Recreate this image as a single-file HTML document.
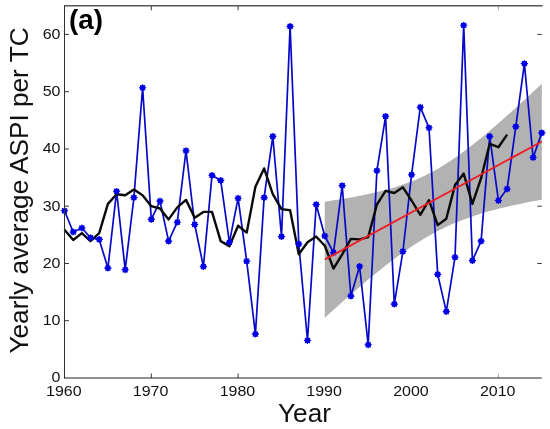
<!DOCTYPE html>
<html><head><meta charset="utf-8"><style>
html,body{margin:0;padding:0;background:#fff;}
svg{display:block;will-change:transform;font-family:"Liberation Sans",sans-serif;}
.tl{font-size:14.8px;fill:#111;}
.tk{stroke:#222;stroke-width:0.9;}
</style></head><body>
<svg width="550" height="429" viewBox="0 0 550 429">
<defs><g id="m"><circle r="2.8" fill="#0000e6"/><path d="M-3.6,0H3.6M0,-3.4V3.4M-2.5,-2.5L2.5,2.5M-2.5,2.5L2.5,-2.5" stroke="#0000e6" stroke-width="1.1"/></g></defs>
<rect width="550" height="429" fill="#fff"/>
<line x1="151.3" y1="378.0" x2="151.3" y2="373.5" class="tk"/><line x1="151.3" y1="5.8" x2="151.3" y2="10.3" class="tk"/><line x1="238.1" y1="378.0" x2="238.1" y2="373.5" class="tk"/><line x1="238.1" y1="5.8" x2="238.1" y2="10.3" class="tk"/><line x1="498.4" y1="378.0" x2="498.4" y2="373.5" class="tk" opacity="0.45"/><line x1="498.4" y1="5.8" x2="498.4" y2="10.3" class="tk" opacity="0.45"/><line x1="64.5" y1="320.7" x2="69.0" y2="320.7" class="tk"/><line x1="64.5" y1="263.5" x2="69.0" y2="263.5" class="tk"/><line x1="541.8" y1="263.5" x2="537.3" y2="263.5" class="tk"/><line x1="64.5" y1="206.2" x2="69.0" y2="206.2" class="tk"/><line x1="541.8" y1="206.2" x2="537.3" y2="206.2" class="tk"/><line x1="64.5" y1="149.0" x2="69.0" y2="149.0" class="tk"/><line x1="541.8" y1="149.0" x2="537.3" y2="149.0" class="tk"/><line x1="64.5" y1="91.7" x2="69.0" y2="91.7" class="tk"/><line x1="541.8" y1="91.7" x2="537.3" y2="91.7" class="tk"/><line x1="64.5" y1="34.4" x2="69.0" y2="34.4" class="tk"/><line x1="541.8" y1="34.4" x2="537.3" y2="34.4" class="tk"/>
<polygon points="324.8,201.7 329.2,201.0 333.5,200.3 337.9,199.7 342.2,198.9 346.5,198.2 350.9,197.5 355.2,196.7 359.6,195.8 363.9,195.0 368.2,194.1 372.6,193.1 376.9,192.1 381.3,191.0 385.6,189.9 389.9,188.7 394.3,187.4 398.6,186.1 402.9,184.6 407.3,183.1 411.6,181.4 416.0,179.7 420.3,177.8 424.6,175.7 429.0,173.6 433.3,171.3 437.7,168.9 442.0,166.3 446.3,163.6 450.7,160.8 455.0,157.8 459.4,154.8 463.7,151.6 468.0,148.3 472.4,145.0 476.7,141.5 481.1,138.0 485.4,134.4 489.7,130.8 494.1,127.0 498.4,123.3 502.7,119.5 507.1,115.6 511.4,111.7 515.8,107.8 520.1,103.8 524.4,99.9 528.8,95.9 533.1,91.8 537.5,87.8 541.8,83.7 541.8,199.7 537.5,200.5 533.1,201.3 528.8,202.1 524.4,203.0 520.1,203.9 515.8,204.8 511.4,205.7 507.1,206.7 502.7,207.8 498.4,208.8 494.1,209.9 489.7,211.1 485.4,212.3 481.1,213.6 476.7,215.0 472.4,216.4 468.0,217.9 463.7,219.5 459.4,221.2 455.0,223.0 450.7,224.8 446.3,226.8 442.0,228.9 437.7,231.1 433.3,233.4 429.0,235.8 424.6,238.3 420.3,241.0 416.0,243.7 411.6,246.6 407.3,249.5 402.9,252.5 398.6,255.7 394.3,258.9 389.9,262.2 385.6,265.5 381.3,269.0 376.9,272.5 372.6,276.0 368.2,279.6 363.9,283.3 359.6,286.9 355.2,290.7 350.9,294.4 346.5,298.2 342.2,302.1 337.9,305.9 333.5,309.8 329.2,313.7 324.8,317.7" fill="#b2b2b2"/>
<polyline points="64.5,210.8 73.2,232.0 81.9,228.0 90.5,237.7 99.2,239.4 107.9,268.1 116.6,191.3 125.2,269.8 133.9,197.6 142.6,87.7 151.3,219.4 160.0,201.1 168.6,241.1 177.3,222.2 186.0,150.7 194.7,224.5 203.4,266.6 212.0,175.3 220.7,180.4 229.4,242.3 238.1,198.2 246.7,261.2 255.4,334.1 264.1,197.6 272.8,136.4 281.5,236.6 290.1,26.4 298.8,244.0 307.5,340.5 316.2,204.5 324.8,236.0 333.5,252.6 342.2,185.6 350.9,296.1 359.6,266.3 368.2,344.8 376.9,170.7 385.6,116.3 394.3,304.1 402.9,251.5 411.6,174.7 420.3,107.2 429.0,127.8 437.7,274.4 446.3,311.6 455.0,257.2 463.7,25.3 472.4,260.6 481.1,241.1 489.7,136.4 498.4,200.5 507.1,189.0 515.8,126.6 524.4,63.6 533.1,157.5 541.8,132.9" fill="none" stroke="#0808c8" stroke-width="1.7" stroke-linejoin="round"/>
<polyline points="64.5,229.7 73.2,240.0 81.9,233.1 90.5,241.1 99.2,233.1 107.9,203.9 116.6,194.2 125.2,195.3 133.9,189.6 142.6,195.3 151.3,206.2 160.0,208.5 168.6,219.4 177.3,207.4 186.0,199.9 194.7,217.7 203.4,211.9 212.0,211.9 220.7,241.1 229.4,246.3 238.1,225.7 246.7,232.6 255.4,186.7 264.1,168.4 272.8,194.2 281.5,209.1 290.1,210.2 298.8,254.3 307.5,242.3 316.2,236.6 324.8,245.7 333.5,268.6 342.2,254.3 350.9,238.9 359.6,239.4 368.2,237.1 376.9,204.5 385.6,190.8 394.3,193.0 402.9,187.3 411.6,200.5 420.3,214.8 429.0,200.2 437.7,225.1 446.3,218.8 455.0,185.0 463.7,173.6 472.4,203.9 481.1,178.2 489.7,143.8 498.4,147.2 507.1,134.6" fill="none" stroke="#0a0a0a" stroke-width="2.4" stroke-linejoin="round"/>
<use href="#m" x="64.5" y="210.8"/><use href="#m" x="73.2" y="232.0"/><use href="#m" x="81.9" y="228.0"/><use href="#m" x="90.5" y="237.7"/><use href="#m" x="99.2" y="239.4"/><use href="#m" x="107.9" y="268.1"/><use href="#m" x="116.6" y="191.3"/><use href="#m" x="125.2" y="269.8"/><use href="#m" x="133.9" y="197.6"/><use href="#m" x="142.6" y="87.7"/><use href="#m" x="151.3" y="219.4"/><use href="#m" x="160.0" y="201.1"/><use href="#m" x="168.6" y="241.1"/><use href="#m" x="177.3" y="222.2"/><use href="#m" x="186.0" y="150.7"/><use href="#m" x="194.7" y="224.5"/><use href="#m" x="203.4" y="266.6"/><use href="#m" x="212.0" y="175.3"/><use href="#m" x="220.7" y="180.4"/><use href="#m" x="229.4" y="242.3"/><use href="#m" x="238.1" y="198.2"/><use href="#m" x="246.7" y="261.2"/><use href="#m" x="255.4" y="334.1"/><use href="#m" x="264.1" y="197.6"/><use href="#m" x="272.8" y="136.4"/><use href="#m" x="281.5" y="236.6"/><use href="#m" x="290.1" y="26.4"/><use href="#m" x="298.8" y="244.0"/><use href="#m" x="307.5" y="340.5"/><use href="#m" x="316.2" y="204.5"/><use href="#m" x="324.8" y="236.0"/><use href="#m" x="333.5" y="252.6"/><use href="#m" x="342.2" y="185.6"/><use href="#m" x="350.9" y="296.1"/><use href="#m" x="359.6" y="266.3"/><use href="#m" x="368.2" y="344.8"/><use href="#m" x="376.9" y="170.7"/><use href="#m" x="385.6" y="116.3"/><use href="#m" x="394.3" y="304.1"/><use href="#m" x="402.9" y="251.5"/><use href="#m" x="411.6" y="174.7"/><use href="#m" x="420.3" y="107.2"/><use href="#m" x="429.0" y="127.8"/><use href="#m" x="437.7" y="274.4"/><use href="#m" x="446.3" y="311.6"/><use href="#m" x="455.0" y="257.2"/><use href="#m" x="463.7" y="25.3"/><use href="#m" x="472.4" y="260.6"/><use href="#m" x="481.1" y="241.1"/><use href="#m" x="489.7" y="136.4"/><use href="#m" x="498.4" y="200.5"/><use href="#m" x="507.1" y="189.0"/><use href="#m" x="515.8" y="126.6"/><use href="#m" x="524.4" y="63.6"/><use href="#m" x="533.1" y="157.5"/><use href="#m" x="541.8" y="132.9"/>
<line x1="324.8" y1="259.5" x2="541.8" y2="141.5" stroke="#ee1c24" stroke-width="1.9"/>
<line x1="64.5" y1="5.8" x2="542.5999999999999" y2="5.8" stroke="#555" stroke-width="1.6"/>
<line x1="64.5" y1="5.3" x2="64.5" y2="378.5" stroke="#303030" stroke-width="1"/>
<line x1="64.5" y1="378.0" x2="541.8" y2="378.0" stroke="#222" stroke-width="1.1"/>
<text transform="translate(63.8,396.2) scale(1.08,1)" text-anchor="middle" class="tl">1960</text><text transform="translate(150.6,396.2) scale(1.08,1)" text-anchor="middle" class="tl">1970</text><text transform="translate(237.4,396.2) scale(1.08,1)" text-anchor="middle" class="tl">1980</text><text transform="translate(324.1,396.2) scale(1.08,1)" text-anchor="middle" class="tl">1990</text><text transform="translate(410.9,396.2) scale(1.08,1)" text-anchor="middle" class="tl">2000</text><text transform="translate(497.7,396.2) scale(1.08,1)" text-anchor="middle" class="tl">2010</text><text transform="translate(60.4,382.3) scale(1.08,1)" text-anchor="end" class="tl">0</text><text transform="translate(60.4,325.0) scale(1.08,1)" text-anchor="end" class="tl">10</text><text transform="translate(60.4,267.8) scale(1.08,1)" text-anchor="end" class="tl">20</text><text transform="translate(60.4,210.5) scale(1.08,1)" text-anchor="end" class="tl">30</text><text transform="translate(60.4,153.3) scale(1.08,1)" text-anchor="end" class="tl">40</text><text transform="translate(60.4,96.0) scale(1.08,1)" text-anchor="end" class="tl">50</text><text transform="translate(60.4,38.7) scale(1.08,1)" text-anchor="end" class="tl">60</text>
<text x="69.1" y="28.8" font-size="27.8" font-weight="bold" fill="#000">(a)</text>
<text x="304.5" y="421.8" font-size="26.2" text-anchor="middle" fill="#111">Year</text>
<text transform="translate(27.8,190.5) rotate(-90)" font-size="26.2" text-anchor="middle" fill="#111">Yearly average ASPI per TC</text>
</svg>
</body></html>
